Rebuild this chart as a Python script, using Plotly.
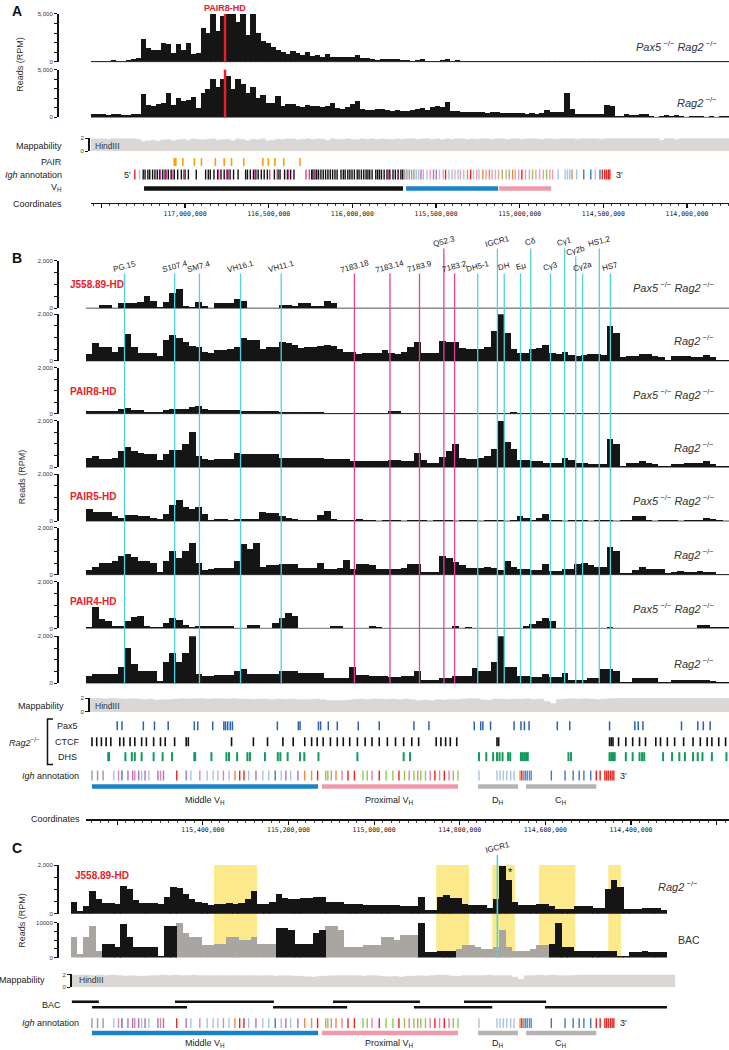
import numpy as np
import plotly.graph_objects as go

W, H = 729, 1050
FONT = "Liberation Sans, Arial, sans-serif"
MONO = "DejaVu Sans Mono, monospace"


def fy(p):
    return 1 - p / H


def fx(p):
    return p / W


# ============================ DATA ============================
# ---- Panel A (chr12 coordinates in Mb, decreasing to the right) ----
A_RANGE = [117.562, 113.749]
A_PAX5_RAG2 = [80, 100, 120, 100, 150, 120, 100, 200, 250, 400,
               2400, 1400, 1200, 1250, 2000, 1800, 900, 1800, 1200, 2000,
               800, 900, 3500, 3000, 5000, 3200, 4800, 5000, 5000, 4200,
               5000, 2800, 5000, 3000, 2200, 2000, 1500, 1200, 1000, 800,
               1100, 900, 700, 1000, 600, 650, 500, 800, 500, 500,
               450, 500, 450, 700, 400, 350, 300, 150, 250, 300,
               250, 250, 200, 150, 100, 150, 250, 100, 120, 100,
               200, 250, 100, 150, 120, 100, 50, 40, 60, 40,
               30, 50, 40, 60, 30, 40, 70, 40, 30, 50,
               40, 30, 60, 40, 50, 30, 40, 80, 40, 30,
               50, 40, 30, 60, 40, 30, 50, 40, 70, 40,
               30, 50, 40, 30, 60, 40, 50, 30, 40, 60,
               40, 30, 50, 40, 30, 60, 40, 30]
A_RAG2 = [300, 320, 300, 280, 300, 300, 280, 250, 300, 400,
          2400, 1300, 1200, 1400, 1500, 2600, 1300, 2000, 1700, 1800,
          2100, 1000, 2600, 3000, 4000, 3200, 4000, 4300, 3000, 4000,
          3500, 2500, 3200, 2000, 2300, 1500, 1500, 2200, 1200, 1400,
          1400, 1200, 1100, 1300, 1200, 1200, 1100, 1200, 1500, 1000,
          900, 1100, 1400, 1700, 900, 800, 800, 900, 900, 800,
          700, 750, 700, 700, 800, 900, 1000, 800, 1100, 1200,
          1100, 1600, 700, 650, 600, 550, 550, 600, 550, 500,
          600, 550, 500, 500, 450, 450, 450, 400, 450, 400,
          450, 800, 600, 600, 600, 2600, 900, 400, 400, 400,
          350, 400, 350, 1300, 1200, 100, 150, 300, 250, 200,
          300, 300, 100, 80, 150, 200, 100, 200, 150, 80,
          100, 150, 100, 80, 150, 80, 100, 100]
A_MAPPABILITY = [1.95, 1.9, 1.95, 1.85, 1.95, 1.9, 1.95, 1.9, 1.95, 1.85,
                 1.5, 1.6, 1.7, 1.55, 1.75, 1.8, 1.6, 1.75, 1.85, 1.7,
                 1.9, 1.8, 1.75, 1.85, 1.9, 1.7, 1.8, 1.85, 1.6, 1.9,
                 1.8, 1.65, 1.85, 1.75, 1.9, 1.6, 1.7, 1.85, 1.8, 1.9,
                 1.9, 1.75, 1.85, 1.9, 1.8, 1.9, 1.85, 1.7, 1.9, 1.8,
                 1.85, 1.9, 1.8, 1.75, 1.9, 1.85, 1.9, 1.8, 1.9, 1.85,
                 1.8, 1.9, 1.85, 1.9, 1.95, 1.8, 1.9, 1.95, 1.85, 1.9,
                 1.75, 1.9, 1.85, 1.95, 1.9, 1.8, 1.9, 1.85, 1.95, 1.9,
                 1.85, 1.9, 1.95, 1.8, 1.9, 1.95, 1.85, 1.9, 1.95, 1.9,
                 1.8, 1.95, 1.9, 1.85, 1.95, 1.9, 1.95, 1.85, 1.95, 1.9,
                 1.95, 1.9, 1.85, 2, 2, 2, 2, 1.95, 2, 2,
                 2, 2, 2, 2, 1.7, 2, 2, 1.8, 2, 2,
                 2, 2, 2, 2, 2, 2, 2, 2]
A_PAIR8_POS = 116.761
A_PAIR_SITES = [117.064, 117.055, 117.013, 116.944, 116.902, 116.819, 116.766,
                116.722, 116.649, 116.535, 116.502, 116.463, 116.410, 116.313]
A_IGH_BLACK = [117.250, 117.239, 117.222, 117.211, 117.194, 117.180, 117.166, 117.152,
               117.133, 117.119, 117.100, 117.083, 117.064, 117.044, 117.022, 117.000,
               116.980, 116.933, 116.877, 116.861, 116.849, 116.827, 116.805, 116.785,
               116.766, 116.744, 116.730, 116.710, 116.683, 116.638, 116.627, 116.610,
               116.591, 116.577, 116.563, 116.544, 116.527, 116.508, 116.466, 116.444,
               116.432, 116.405, 116.388, 116.369, 116.349, 116.243, 116.235, 116.224,
               116.213, 116.202, 116.188, 116.174, 116.160, 116.146, 116.132, 116.118,
               116.104, 116.091, 116.068, 116.054, 116.043, 116.027, 116.015, 116.002,
               115.988, 115.971, 115.960, 115.946, 115.932, 115.918, 115.907, 115.896,
               115.882, 115.860, 115.849, 115.838, 115.826, 115.810, 115.793, 115.776,
               115.757, 115.743, 115.726, 115.710, 115.699]
A_IGH_MAGENTA = [117.147, 117.111, 117.072, 117.008, 116.799, 116.752, 116.733, 116.583,
                 116.494, 116.449, 116.382, 116.277, 116.257, 116.229, 115.785, 115.729]
A_IGH_RED = [117.300, 115.443, 115.293, 114.987, 114.506, 114.492, 114.481, 114.470, 114.461]
A_IGH_LBLUE = [117.272, 115.618, 115.604, 115.554, 115.479, 115.423, 115.387, 115.368,
               115.334, 115.276, 115.243, 115.145, 114.770, 114.728, 114.714, 114.700,
               114.659, 114.548]
A_IGH_GRAY = [115.687, 115.674, 115.660, 115.646, 115.632]
A_IGH_PURPLE = [115.590, 115.515, 115.498]
A_IGH_PINK = [115.576, 115.535, 115.457, 115.404, 115.354, 115.257, 115.201, 115.165,
              115.126, 115.081, 115.026, 115.006, 114.965, 114.942, 114.903, 114.881,
              114.859, 114.820, 114.803]
A_IGH_ORANGE = [115.312, 115.220, 115.181, 115.042, 114.687]
A_IGH_GREEN = [115.104, 115.062, 114.923, 114.839]
A_IGH_BLUE = [114.617, 114.575, 114.520]
A_VH_START = [117.245, 115.679, 115.123]
A_VH_END = [115.697, 115.129, 114.812]
A_VH_COLORS = ["#111111", "#1C82C6", "#EF9AAA"]
A_YTICKS = [0, 1000, 2000, 3000, 4000, 5000]
A_YTICKTEXT = ["0", "", "", "", "", "5,000"]
A_XTICKS = [117.5, 117.0, 116.5, 116.0, 115.5, 115.0, 114.5, 114.0]
A_XTICKTEXT = ["", "117,000,000", "116,500,000", "116,000,000", "115,500,000",
               "115,000,000", "114,500,000", "114,000,000"]

# ---- Panel B ----
B_RANGE = [115.673, 114.171]
B_MAP_RANGE = [115.664, 114.171]
B_J558_PAX5 = [30, 30, 150, 150, 30, 200, 200, 200, 250, 500,
               300, 50, 250, 650, 800, 100, 50, 250, 100, 30,
               200, 200, 200, 400, 300, 30, 25, 30, 25, 30,
               150, 150, 80, 200, 200, 100, 100, 300, 200, 25,
               20, 30, 25, 20, 25, 30, 25, 20, 25, 30,
               25, 20, 25, 30, 25, 20, 25, 30, 25, 20,
               30, 25, 20, 25, 30, 25, 20, 25, 30, 25,
               20, 25, 30, 25, 20, 25, 30, 25, 20, 25,
               30, 25, 20, 25, 30, 25, 20, 25, 30, 25,
               20, 25, 30, 25, 20, 25, 30, 25, 20, 25]
B_J558_RAG2 = [300, 750, 600, 600, 400, 600, 1150, 600, 350, 350,
               350, 200, 900, 1100, 1000, 800, 650, 600, 400, 350,
               450, 450, 500, 600, 1000, 900, 900, 500, 600, 600,
               800, 750, 700, 550, 600, 600, 650, 700, 650, 500,
               400, 400, 300, 350, 350, 350, 450, 350, 300, 400,
               600, 800, 350, 350, 350, 850, 800, 800, 550, 500,
               500, 500, 600, 1300, 2000, 1200, 500, 350, 350, 500,
               550, 700, 350, 300, 400, 250, 200, 250, 300, 300,
               250, 1500, 1200, 150, 200, 200, 300, 300, 200, 150,
               20, 200, 200, 200, 180, 180, 250, 150, 50, 50]
B_PAIR8_PAX5 = [120, 120, 100, 100, 100, 200, 250, 150, 150, 80,
                80, 80, 150, 200, 220, 200, 300, 320, 200, 150,
                150, 150, 150, 150, 120, 100, 100, 100, 100, 100,
                60, 60, 60, 80, 80, 80, 80, 30, 30, 30,
                40, 40, 40, 40, 40, 40, 40, 120, 100, 30,
                25, 20, 30, 25, 20, 25, 30, 25, 20, 25,
                30, 25, 20, 25, 30, 25, 60, 25, 20, 30,
                25, 20, 25, 30, 25, 20, 25, 30, 25, 20,
                25, 30, 20, 25, 30, 25, 20, 25, 30, 25,
                20, 25, 30, 25, 20, 25, 30, 25, 20, 25]
B_PAIR8_RAG2 = [400, 500, 350, 350, 400, 700, 850, 700, 600, 550,
                550, 300, 550, 750, 750, 1000, 1500, 500, 350, 300,
                350, 350, 350, 600, 550, 550, 550, 550, 550, 550,
                400, 400, 400, 400, 400, 400, 400, 350, 350, 350,
                350, 250, 250, 250, 250, 250, 250, 300, 300, 250,
                250, 600, 300, 200, 200, 450, 700, 1000, 400, 350,
                350, 400, 500, 800, 2000, 1100, 800, 300, 300, 250,
                250, 200, 200, 200, 400, 300, 200, 200, 150, 150,
                150, 1200, 1000, 60, 200, 200, 250, 200, 150, 40,
                40, 150, 150, 200, 200, 200, 250, 150, 40, 40]
B_PAIR5_PAX5 = [500, 400, 400, 400, 200, 150, 250, 250, 200, 200,
                150, 80, 300, 700, 900, 600, 500, 600, 300, 40,
                100, 100, 50, 100, 80, 80, 80, 400, 350, 350,
                200, 150, 100, 30, 30, 30, 250, 450, 100, 40,
                40, 40, 80, 30, 25, 20, 25, 30, 25, 20,
                25, 30, 25, 20, 25, 30, 25, 20, 25, 30,
                25, 20, 25, 30, 25, 20, 30, 200, 150, 30,
                150, 300, 30, 25, 20, 25, 30, 25, 20, 25,
                30, 25, 20, 25, 30, 200, 200, 25, 20, 25,
                30, 25, 20, 25, 30, 25, 120, 100, 25, 20]
B_PAIR5_RAG2 = [200, 350, 500, 500, 600, 800, 900, 750, 600, 600,
                500, 100, 600, 1000, 700, 1000, 1350, 500, 200, 250,
                300, 300, 300, 600, 1300, 1100, 1350, 350, 400, 400,
                450, 450, 450, 300, 300, 300, 500, 250, 250, 300,
                650, 250, 450, 450, 400, 250, 250, 250, 250, 300,
                450, 450, 100, 100, 100, 800, 700, 550, 400, 300,
                300, 300, 350, 300, 200, 600, 350, 250, 250, 200,
                200, 450, 150, 150, 250, 250, 450, 500, 400, 350,
                350, 1200, 1000, 80, 80, 200, 350, 250, 250, 250,
                80, 120, 150, 120, 120, 150, 120, 120, 50, 50]
B_PAIR4_PAX5 = [40, 900, 400, 300, 100, 100, 300, 500, 550, 100,
                50, 50, 250, 450, 350, 150, 50, 100, 100, 100,
                100, 100, 100, 30, 30, 150, 150, 30, 30, 250,
                450, 650, 550, 30, 30, 30, 30, 30, 100, 100,
                30, 30, 30, 30, 100, 80, 30, 30, 30, 30,
                30, 30, 30, 30, 30, 30, 30, 120, 30, 80,
                30, 30, 30, 30, 30, 30, 30, 30, 100, 200,
                300, 450, 300, 30, 30, 30, 30, 30, 30, 30,
                30, 80, 30, 30, 30, 30, 30, 30, 30, 30,
                30, 30, 30, 30, 30, 150, 150, 80, 40, 40]
B_PAIR4_RAG2 = [300, 400, 400, 400, 400, 700, 1500, 800, 500, 500,
                500, 100, 900, 1300, 900, 1300, 2000, 400, 300, 300,
                350, 350, 350, 500, 600, 400, 400, 400, 400, 400,
                500, 500, 500, 450, 450, 450, 450, 200, 200, 200,
                200, 700, 350, 350, 300, 300, 300, 250, 250, 300,
                300, 500, 150, 150, 150, 200, 200, 300, 300, 300,
                650, 500, 500, 900, 2000, 700, 700, 300, 300, 250,
                250, 400, 250, 250, 450, 150, 150, 150, 200, 200,
                600, 600, 500, 50, 50, 200, 200, 200, 200, 50,
                50, 120, 150, 150, 120, 150, 150, 100, 50, 50]
B_MAPPABILITY = [1.95, 1.95, 1.9, 1.95, 1.9, 1.85, 1.9, 1.85, 1.8, 1.85,
                 1.7, 1.75, 1.8, 1.85, 1.9, 1.85, 1.9, 1.9, 1.85, 1.9,
                 1.9, 1.85, 1.9, 1.85, 1.85, 1.8, 1.85, 1.85, 1.8, 1.85,
                 1.8, 1.85, 1.8, 1.75, 1.8, 1.85, 1.75, 1.65, 1.6, 1.65,
                 1.7, 1.8, 1.85, 1.8, 1.85, 1.85, 1.8, 1.85, 1.75, 1.85,
                 1.75, 1.65, 1.7, 1.6, 1.75, 1.7, 1.8, 1.75, 1.85, 1.9,
                 1.9, 1.75, 1.7, 1.85, 1.85, 1.8, 1.85, 1.85, 1.9, 1.8,
                 1.85, 1.5, 1.2, 1.8, 1.85, 1.9, 1.85, 1.9, 1.85, 1.8,
                 1.85, 1.9, 1.95, 1.98, 1.98, 1.98, 1.98, 1.98, 1.98, 1.98,
                 1.98, 1.98, 1.98, 1.98, 1.98, 1.98, 1.98, 1.98, 1.98, 1.98]
B_TRACKS = [B_J558_PAX5, B_J558_RAG2, B_PAIR8_PAX5, B_PAIR8_RAG2,
            B_PAIR5_PAX5, B_PAIR5_RAG2, B_PAIR4_PAX5, B_PAIR4_RAG2]
B_SAMPLES = ["J558.89-HD", "PAIR8-HD", "PAIR5-HD", "PAIR4-HD"]
B_FEATURE_NAMES = ["PG.15", "S107.4", "SM7.4", "VH16.1", "VH11.1", "7183.18", "7183.14",
                   "7183.9", "Q52.3", "7183.2", "DH5-1", "IGCR1", "DH", "Eμ", "Cδ",
                   "Cγ3", "Cγ1", "Cγ2b", "Cγ2a", "HS1,2", "HS7"]
B_FEATURE_POS = [115.583, 115.466, 115.408, 115.312, 115.217, 115.046, 114.963,
                 114.894, 114.837, 114.812, 114.758, 114.712, 114.696, 114.658, 114.634,
                 114.588, 114.555, 114.529, 114.513, 114.474, 114.448]
B_FEATURE_KIND = ["c", "c", "c", "c", "c", "m", "m", "m", "m", "m", "c", "c", "c", "c",
                  "c", "c", "c", "c", "c", "c", "c"]
B_FEATURE_TIER = [0, 0, 0, 0, 0, 0, 0, 0, 2, 0, 0, 2, 0, 0, 2, 0, 2, 1, 0, 2, 0]
B_PAX5 = [115.600, 115.589, 115.539, 115.513, 115.481, 115.420, 115.412, 115.377, 115.351,
          115.347, 115.342, 115.336, 115.331, 115.226, 115.177, 115.173, 115.130, 115.125,
          115.107, 115.086, 115.037, 114.988, 114.907, 114.872, 114.766, 114.751, 114.746,
          114.728, 114.673, 114.657, 114.649, 114.638, 114.572, 114.543, 114.450, 114.391,
          114.383, 114.372, 114.282, 114.244, 114.231, 114.215]
B_CTCF = [115.659, 115.648, 115.637, 115.626, 115.615, 115.594, 115.585, 115.570, 115.559,
          115.543, 115.532, 115.515, 115.499, 115.488, 115.466, 115.439, 115.434, 115.333,
          115.282, 115.249, 115.213, 115.189, 115.162, 115.146, 115.133, 115.119, 115.102,
          115.086, 115.072, 115.057, 115.039, 115.021, 115.005, 114.988, 114.969, 114.950,
          114.931, 114.912, 114.896, 114.855, 114.844, 114.833, 114.822, 114.807, 114.713,
          114.709, 114.450, 114.446, 114.442, 114.429, 114.412, 114.396, 114.380, 114.366,
          114.342, 114.331, 114.315, 114.298, 114.277, 114.255, 114.238, 114.222, 114.211,
          114.195, 114.179]
B_DHS = [115.621, 115.619, 115.581, 115.566, 115.559, 115.543, 115.515, 115.494, 115.472,
         115.420, 115.418, 115.380, 115.345, 115.339, 115.320, 115.296, 115.290, 115.255,
         115.225, 115.219, 115.202, 115.173, 115.163, 115.130, 115.039, 114.931, 114.916,
         114.755, 114.738, 114.722, 114.713, 114.707, 114.700, 114.687, 114.682, 114.657,
         114.653, 114.649, 114.645, 114.641, 114.546, 114.540, 114.450, 114.446, 114.442,
         114.438, 114.412, 114.396, 114.380, 114.374, 114.369, 114.325, 114.304, 114.287,
         114.274, 114.255, 114.244, 114.233, 114.211, 114.177]
IGH_GRAY_POS = [115.659, 115.646, 115.633]
IGH_LBLUE_POS = [115.608, 115.543, 115.526, 115.428, 115.390, 115.376, 115.365, 115.339,
                 115.293, 115.260, 115.246, 115.217, 115.195, 114.755, 114.713, 114.706,
                 114.698, 114.690, 114.681, 114.673]
IGH_BLUE_POS = [115.589, 115.231, 114.586, 114.554, 114.535, 114.521, 114.510, 114.494]
IGH_STEEL_POS = [114.650, 114.646, 114.642, 114.637, 114.633]
IGH_PURPLE_POS = [115.575, 115.564, 115.550, 115.535, 115.505, 115.492, 115.439, 115.276,
                  115.206, 115.178]
IGH_PINK_POS = [115.597, 115.559, 115.499, 115.407, 115.352, 115.100, 115.075, 115.005,
                114.918, 114.898, 114.869, 114.847, 114.825]
IGH_RED_POS = [115.461, 115.314, 115.304, 115.132, 115.061, 115.046, 114.988, 114.942,
               114.858, 114.836, 114.655, 114.481, 114.472, 114.461, 114.457, 114.453,
               114.448, 114.444, 114.440]
IGH_ORANGE_POS = [115.325, 115.162, 115.146, 115.089, 114.659]
IGH_GREEN_POS = [115.113, 115.108, 115.026, 115.016, 114.972, 114.956, 114.929, 114.907,
                 114.891, 114.880, 114.815, 114.804]
REGION_NAMES = ["Middle V<sub>H</sub>", "Proximal V<sub>H</sub>", "D<sub>H</sub>", "C<sub>H</sub>"]
REGION_START = [115.659, 115.122, 114.757, 114.645]
REGION_END = [115.131, 114.804, 114.664, 114.481]
REGION_COLORS = ["#1C82C6", "#EF9AAA", "#B4B4B4", "#B4B4B4"]
B_YTICKS = [0, 500, 1000, 1500, 2000]
B_YTICKTEXT = ["0", "", "", "", "2,000"]
B_XTICKS = [115.6, 115.4, 115.2, 115.0, 114.8, 114.6, 114.4, 114.2]
B_XTICKTEXT = ["", "115,400,000", "115,200,000", "115,000,000", "114,800,000",
               "114,600,000", "114,400,000", ""]

# ---- Panel C ----
C_AXIS_RANGE = [115.708, 114.171]
C_DATA_RANGE = [115.708, 114.316]
C_MAP_RANGE = [115.706, 114.297]
C_J558_RAG2 = [500, 100, 300, 950, 600, 450, 450, 400, 1150, 1000,
               550, 450, 450, 450, 400, 700, 1100, 1050, 800, 600,
               500, 450, 350, 400, 400, 450, 400, 450, 600, 950,
               400, 400, 500, 800, 650, 600, 600, 650, 650, 700,
               700, 500, 500, 500, 400, 400, 400, 350, 350, 350,
               350, 350, 350, 300, 300, 300, 700, 150, 150, 700,
               750, 650, 650, 400, 350, 350, 350, 250, 600, 1950,
               1400, 500, 350, 350, 350, 400, 400, 300, 200, 200,
               200, 300, 300, 300, 250, 250, 1000, 1400, 1100, 200,
               200, 200, 250, 250, 250, 150]
C_BAC_READS = [6000, 1000, 6000, 9000, 2000, 4000, 4000, 3000, 9500, 6000,
               3000, 3000, 3000, 3000, 500, 9000, 9000, 10000, 7000, 6000,
               6000, 3500, 3500, 4000, 4000, 6000, 6000, 5000, 5000, 6000,
               4000, 4000, 4000, 8500, 8500, 8000, 4000, 4000, 4000, 7000,
               8000, 9000, 9000, 8000, 3000, 3000, 3000, 3500, 3500, 3500,
               6000, 6000, 5000, 6500, 6500, 6500, 10000, 1500, 1500, 1800,
               1800, 1800, 2500, 3500, 3500, 3000, 2500, 2500, 3000, 8000,
               3000, 2000, 2000, 2000, 2500, 3500, 3500, 4000, 10000, 3000,
               3000, 2000, 2000, 2000, 2000, 2000, 2000, 2000, 500, 500,
               1500, 1500, 2000, 1500, 1500, 1500]
C_BAC_SHADE = "ggggg" + "kkkkkkkkkkkk" + "gggggggggggggggg" + "kkkkkkkk" + \
              "ggggggggggggggg" + "kkkkkk" + "ggggggggggggggg" + "kkkkkkkkkkkkkkkkkkk"
C_MAPPABILITY = [1.9, 1.95, 1.9, 1.85, 1.9, 1.85, 1.9, 1.85, 1.75, 1.8,
                 1.7, 1.75, 1.8, 1.85, 1.9, 1.85, 1.9, 1.85, 1.85, 1.9,
                 1.85, 1.85, 1.8, 1.85, 1.8, 1.85, 1.85, 1.8, 1.85, 1.8,
                 1.8, 1.85, 1.75, 1.8, 1.8, 1.75, 1.7, 1.65, 1.6, 1.7,
                 1.75, 1.8, 1.85, 1.8, 1.85, 1.8, 1.75, 1.85, 1.8, 1.7,
                 1.65, 1.7, 1.6, 1.75, 1.7, 1.8, 1.75, 1.85, 1.9, 1.9,
                 1.75, 1.7, 1.85, 1.8, 1.85, 1.85, 1.9, 1.8, 1.85, 1.85,
                 1.6, 1.25, 1.8, 1.85, 1.9, 1.85, 1.9, 1.85, 1.8, 1.85,
                 1.9, 1.95, 1.95, 1.95, 1.95, 1.95, 1.95, 1.95, 1.95, 1.95,
                 1.95, 1.95, 1.95, 1.95, 1.95, 1.95]
C_HIGHLIGHT_START = [115.374, 114.855, 114.724, 114.615, 114.453]
C_HIGHLIGHT_END = [115.273, 114.778, 114.671, 114.530, 114.423]
C_IGCR1_POS = 114.712
C_STAR_POS = 114.682
C_BAC_ROW1_START = [115.706, 115.465, 115.096, 114.790]
C_BAC_ROW1_END = [115.643, 115.234, 114.893, 114.598]
C_BAC_ROW2_START = [115.659, 115.236, 114.907, 114.601]
C_BAC_ROW2_END = [115.437, 115.063, 114.724, 114.316]
C_YTICKS_BAC = [0, 2500, 5000, 7500, 10000]
C_YTICKTEXT_BAC = ["0", "", "", "", "10000"]

# ============================ STYLE ============================
BAR_BLACK = "#151515"
BAC_GRAY = "#A9A5A1"
MAP_GRAY = "#DAD7D4"
RED = "#E8202A"
CYAN = "#4FD3DE"
MAGENTA = "#E5409A"
YELLOW = "#FBE98C"
KO = "<i>Pax5</i><sup> \u2212/\u2212</sup> <i>Rag2</i><sup> \u2212/\u2212</sup>"
RKO = "<i>Rag2</i><sup> \u2212/\u2212</sup>"
SIDE_SIZE = 11

fig = go.Figure()
layout = {}
shapes = []
annotations = []


def ann(text, x, y, size=9.0, color="#222", xanchor="center", angle=0,
        xref="paper", family=FONT, yanchor="middle"):
    annotations.append(dict(text=text, x=fx(x) if xref == "paper" else x, y=fy(y),
                            xref=xref, yref="paper", showarrow=False, xanchor=xanchor,
                            yanchor=yanchor, textangle=angle,
                            font=dict(size=size, color=color, family=family)))


def track_yaxis(top, bot, rng, tv, tt, pos=57):
    return dict(domain=[fy(bot), fy(top)], range=rng, anchor="free", position=fx(pos),
                showline=True, linecolor="#111", linewidth=1.7, ticks="outside",
                ticklen=3, tickwidth=1, tickcolor="#111", tickmode="array",
                tickvals=tv, ticktext=tt,
                tickfont=dict(size=6, color="#333", family=FONT),
                showgrid=False, zeroline=False, fixedrange=True)


def bar_trace(vals, rng, xa, ya, color=BAR_BLACK):
    n = len(vals)
    w = (rng[0] - rng[1]) / n
    centers = rng[0] - w * (np.arange(n) + 0.5)
    return go.Bar(x=centers, y=vals, width=w * 1.06, xaxis=xa, yaxis=ya,
                  marker=dict(color=color, line=dict(width=0)),
                  showlegend=False, hoverinfo="skip")


def map_trace(vals, rng, xa, ya):
    edges = np.linspace(rng[0], rng[1], len(vals) + 1)
    return go.Scatter(x=list(edges), y=list(vals) + [vals[-1]], mode="lines",
                      line=dict(width=0.5, shape="hv", color=MAP_GRAY),
                      fill="tozeroy", fillcolor=MAP_GRAY, xaxis=xa, yaxis=ya,
                      showlegend=False, hoverinfo="skip")


def tick_trace(xs, y0, y1, color, width, xa, ya):
    X, Y = [], []
    for v in xs:
        X += [v, v, None]
        Y += [y0, y1, None]
    return go.Scatter(x=X, y=Y, mode="lines", line=dict(color=color, width=width),
                      xaxis=xa, yaxis=ya, showlegend=False, hoverinfo="skip")


def seg_trace(starts, ends, y, color, width, xa, ya):
    X, Y = [], []
    for a, b in zip(starts, ends):
        X += [a, b, None]
        Y += [y, y, None]
    return go.Scatter(x=X, y=Y, mode="lines", line=dict(color=color, width=width),
                      xaxis=xa, yaxis=ya, showlegend=False, hoverinfo="skip")


def baseline(x0, x1, p):
    shapes.append(dict(type="line", xref="paper", yref="paper", x0=fx(x0), x1=fx(x1),
                       y0=fy(p), y1=fy(p), line=dict(color="#8A8A8A", width=1.3),
                       layer="below"))


def coord_xaxis(dom_left, rng, ypix, tv, tt, minor_dtick):
    return dict(domain=[fx(dom_left), 1], range=rng, anchor="free", position=fy(ypix),
                side="bottom", showline=True,
                linecolor="#111", linewidth=1.2, ticks="outside", ticklen=4,
                tickwidth=1.2, tickcolor="#111", tickmode="array", tickvals=tv,
                ticktext=tt, tickfont=dict(family=MONO, size=6.5, color="#222"),
                minor=dict(tickmode="linear", tick0=0, dtick=minor_dtick,
                           ticks="outside", ticklen=2, tickwidth=0.8, tickcolor="#111"),
                showgrid=False, zeroline=False, fixedrange=True)


PIX = dict(domain=[0, 1], range=[H, 0], visible=False, anchor="free", position=0,
           fixedrange=True)

# ============================ PANEL A ============================
layout["xaxis"] = coord_xaxis(91, A_RANGE, 201, A_XTICKS, A_XTICKTEXT, 0.05)
layout["yaxis"] = track_yaxis(11, 59, [0, 5000], A_YTICKS, A_YTICKTEXT)
layout["yaxis2"] = track_yaxis(67, 115, [0, 5000], A_YTICKS, A_YTICKTEXT)
layout["yaxis3"] = track_yaxis(136, 149, [0, 2], [0, 2], ["0", "2"], pos=88)
layout["yaxis3"]["linewidth"] = 1.5
layout["yaxis18"] = dict(PIX)

baseline(91, 729, 59)
baseline(91, 729, 115)
fig.add_trace(bar_trace(A_PAX5_RAG2, A_RANGE, "x", "y"))
fig.add_trace(bar_trace(A_RAG2, A_RANGE, "x", "y2"))
fig.add_trace(map_trace(A_MAPPABILITY, A_RANGE, "x", "y3"))
fig.add_trace(tick_trace(A_PAIR_SITES, 156, 164, "#F5A000", 1.6, "x", "y18"))
for pos_list, col in [(A_IGH_BLACK, "#111111"), (A_IGH_MAGENTA, "#D0409A"),
                      (A_IGH_GRAY, "#9B9B9B"), (A_IGH_LBLUE, "#A8C4E2"),
                      (A_IGH_PURPLE, "#A676B8"), (A_IGH_PINK, "#EE9AB8"),
                      (A_IGH_ORANGE, "#EE8A3C"), (A_IGH_GREEN, "#93C84E"),
                      (A_IGH_BLUE, "#3F78C0"), (A_IGH_RED, "#E52420")]:
    fig.add_trace(tick_trace(pos_list, 167.5, 177.5, col, 1.4, "x", "y18"))
for s, e, c in zip(A_VH_START, A_VH_END, A_VH_COLORS):
    fig.add_trace(seg_trace([s], [e], 186.5, c, 4.5, "x", "y18"))

for top, bot in [(11, 59), (67, 115)]:
    shapes.append(dict(type="line", xref="x", yref="paper", x0=A_PAIR8_POS, x1=A_PAIR8_POS,
                       y0=fy(bot), y1=fy(top), line=dict(color=RED, width=2.5),
                       layer="above"))

ann("<b>A</b>", 17, 8, size=14, color="#111")
ann("<b>PAIR8-HD</b>", 225, 5, size=9, color=RED)
ann("Reads (RPM)", 20, 62, size=9, color="#333", angle=-90)
ann(KO, 719, 43, size=SIDE_SIZE, color="#333", xanchor="right")
ann(RKO, 719, 100, size=SIDE_SIZE, color="#333", xanchor="right")
ann("Mappability", 64, 144, xanchor="right")
ann("HindIII", 93, 144, size=8.5, xanchor="left", color="#333")
ann("PAIR", 64, 160, xanchor="right")
ann("<i>Igh</i> annotation", 64, 173, xanchor="right")
ann("5\u2032", 127, 173, size=9)
ann("3\u2032", 619, 173, size=9)
ann("V<sub>H</sub>", 64, 186, xanchor="right")
ann("Coordinates", 64, 202, xanchor="right")

# ============================ PANEL B ============================
B_TOPS = [259, 313, 367, 420, 474, 528, 582, 637]
B_BOTS = [307, 360, 413, 467, 521, 575, 629, 684]
layout["xaxis2"] = coord_xaxis(86, B_RANGE, 821, B_XTICKS, B_XTICKTEXT, 0.02)
for k in range(8):
    layout["yaxis%d" % (5 + k)] = track_yaxis(B_TOPS[k], B_BOTS[k], [0, 2000],
                                              B_YTICKS, B_YTICKTEXT)
    baseline(86, 729, B_BOTS[k])
    fig.add_trace(bar_trace(B_TRACKS[k], B_RANGE, "x2", "y%d" % (5 + k)))
    label = KO if k % 2 == 0 else RKO
    ann(label, 716, B_TOPS[k] + 0.56 * (B_BOTS[k] - B_TOPS[k]), size=SIDE_SIZE,
        color="#333", xanchor="right")
for k, name in enumerate(B_SAMPLES):
    ann("<b>%s</b>" % name, 68, [283, 391, 496, 602][k], size=10, color=RED,
        xanchor="left")

layout["yaxis13"] = track_yaxis(699, 713, [0, 2], [0, 2], ["0", "2"], pos=88)
layout["yaxis13"]["linewidth"] = 1.5
layout["yaxis19"] = dict(PIX)
fig.add_trace(map_trace(B_MAPPABILITY, B_MAP_RANGE, "x2", "y13"))

fig.add_trace(tick_trace(B_PAX5, 722.5, 731.5, "#2B63B0", 1.5, "x2", "y19"))
fig.add_trace(tick_trace(B_CTCF, 738.5, 747.5, "#111111", 1.6, "x2", "y19"))
fig.add_trace(tick_trace(B_DHS, 753.5, 762.5, "#12995C", 2.0, "x2", "y19"))


def igh_tracks(xa, ya, y0, y1):
    for pos_list, col in [(IGH_GRAY_POS, "#9B9B9B"), (IGH_LBLUE_POS, "#A8C4E2"),
                          (IGH_PURPLE_POS, "#A676B8"), (IGH_PINK_POS, "#E77FAF"),
                          (IGH_ORANGE_POS, "#EE8A3C"), (IGH_GREEN_POS, "#93C84E"),
                          (IGH_BLUE_POS, "#3F78C0"), (IGH_STEEL_POS, "#5B8BC9"),
                          (IGH_RED_POS, "#E52420")]:
        fig.add_trace(tick_trace(pos_list, y0, y1, col, 1.4, xa, ya))


igh_tracks("x2", "y19", 772, 782)
for s, e, c in zip(REGION_START, REGION_END, REGION_COLORS):
    fig.add_trace(seg_trace([s], [e], 788, c, 4.5, "x2", "y19"))
for k, name in enumerate(REGION_NAMES):
    mid = (REGION_START[k] + REGION_END[k]) / 2
    ann(name, mid, 802, size=9, xref="x2")
    ann(name, mid, 1046, size=9, xref="x3")

# feature lines and labels
TIER_TEXT_Y = [265, 249, 240]
TIER_LINE_TOP = [272, 255, 247]
for name, pos, kind, tier in zip(B_FEATURE_NAMES, B_FEATURE_POS, B_FEATURE_KIND,
                                 B_FEATURE_TIER):
    col = CYAN if kind == "c" else MAGENTA
    shapes.append(dict(type="line", xref="x2", yref="paper", x0=pos, x1=pos,
                       y0=fy(684), y1=fy(TIER_LINE_TOP[tier]),
                       line=dict(color=col, width=1.3), layer="above"))
    ann(name, pos, TIER_TEXT_Y[tier], size=8, color="#222", angle=-15, xref="x2")

ann("<b>B</b>", 17, 256, size=14, color="#111")
ann("Reads (RPM)", 22, 477, size=9, color="#333", angle=-90)
ann("Mappability", 66, 707, xanchor="right")
ann("HindIII", 93, 707, size=8.5, xanchor="left", color="#333")
ann("Pax5", 67, 727, size=9)
ann("CTCF", 67, 743, size=9)
ann("DHS", 67, 758, size=9)
ann("<i>Rag2</i><sup>\u2212/\u2212</sup>", 24, 743, size=9)
shapes.append(dict(type="path", xref="paper", yref="paper",
                   path="M %f %f L %f %f L %f %f L %f %f" % (
                       fx(53), fy(720), fx(47.5), fy(720), fx(47.5), fy(766),
                       fx(53), fy(766)),
                   line=dict(color="#111", width=1.5)))
ann("<i>Igh</i> annotation", 81, 777, xanchor="right")
ann("3\u2032", 623, 777, size=9)
ann("Coordinates", 82, 821, xanchor="right")

# ============================ PANEL C ============================
layout["xaxis3"] = dict(domain=[fx(71), 1], range=C_AXIS_RANGE, anchor="free",
                        position=fy(917), visible=False, fixedrange=True)
layout["yaxis15"] = track_yaxis(867, 916, [0, 2000], B_YTICKS, B_YTICKTEXT)
layout["yaxis16"] = track_yaxis(925, 960, [0, 10000], C_YTICKS_BAC, C_YTICKTEXT_BAC)
layout["yaxis17"] = track_yaxis(977, 990, [0, 2], [0, 2], ["0", "2"], pos=70)
layout["yaxis17"]["linewidth"] = 1.5
layout["yaxis20"] = dict(PIX)

for s, e in zip(C_HIGHLIGHT_START, C_HIGHLIGHT_END):
    shapes.append(dict(type="rect", xref="x3", yref="paper", x0=s, x1=e, y0=fy(960),
                       y1=fy(867), fillcolor=YELLOW, line=dict(width=0), layer="below"))

fig.add_trace(bar_trace(C_J558_RAG2, C_DATA_RANGE, "x3", "y15"))
bac_gray = [v if s == "g" else 0 for v, s in zip(C_BAC_READS, C_BAC_SHADE)]
bac_black = [v if s == "k" else 0 for v, s in zip(C_BAC_READS, C_BAC_SHADE)]
fig.add_trace(bar_trace(bac_gray, C_DATA_RANGE, "x3", "y16", color=BAC_GRAY))
fig.add_trace(bar_trace(bac_black, C_DATA_RANGE, "x3", "y16"))
fig.add_trace(map_trace(C_MAPPABILITY, C_MAP_RANGE, "x3", "y17"))
fig.add_trace(seg_trace(C_BAC_ROW1_START, C_BAC_ROW1_END, 1004.5, "#111", 2.6, "x3", "y20"))
fig.add_trace(seg_trace(C_BAC_ROW2_START, C_BAC_ROW2_END, 1010, "#111", 2.6, "x3", "y20"))
igh_tracks("x3", "y20", 1021, 1031)
for s, e, c in zip(REGION_START, REGION_END, REGION_COLORS):
    fig.add_trace(seg_trace([s], [e], 1036, c, 4.5, "x3", "y20"))

shapes.append(dict(type="line", xref="x3", yref="paper", x0=C_IGCR1_POS, x1=C_IGCR1_POS,
                   y0=fy(960), y1=fy(857), line=dict(color=CYAN, width=1.6),
                   layer="above"))
ann("IGCR1", C_IGCR1_POS, 849, size=8, angle=-15, xref="x3")
ann("*", C_STAR_POS, 874, size=11, xref="x3", color="#111")

ann("<b>C</b>", 17, 850, size=14, color="#111")
ann("<b>J558.89-HD</b>", 73, 878, size=10, color=RED, xanchor="left")
ann(RKO, 700, 888, size=SIDE_SIZE, color="#333", xanchor="right")
ann("BAC", 702, 942, size=10.5, color="#333", xanchor="right")
ann("Reads (RPM)", 22, 923, size=9, color="#333", angle=-90)
ann("Mappability", 47, 983, xanchor="right")
ann("HindIII", 77, 983, size=8.5, xanchor="left", color="#333")
ann("BAC", 63, 1008, xanchor="right")
ann("<i>Igh</i> annotation", 81, 1026, xanchor="right")
ann("3\u2032", 623, 1026, size=9)

fig.update_layout(**layout)
fig.update_layout(width=W, height=H, autosize=False,
                  margin=dict(l=0, r=0, t=0, b=0, pad=0),
                  paper_bgcolor="white", plot_bgcolor="rgba(0,0,0,0)",
                  barmode="overlay", bargap=0, showlegend=False,
                  font=dict(family=FONT, size=9, color="#222"),
                  shapes=shapes, annotations=annotations)

fig.write_html("out.html", config={"displayModeBar": False, "staticPlot": True},
               post_script="document.body.style.margin='0';document.body.style.overflow='hidden';")
